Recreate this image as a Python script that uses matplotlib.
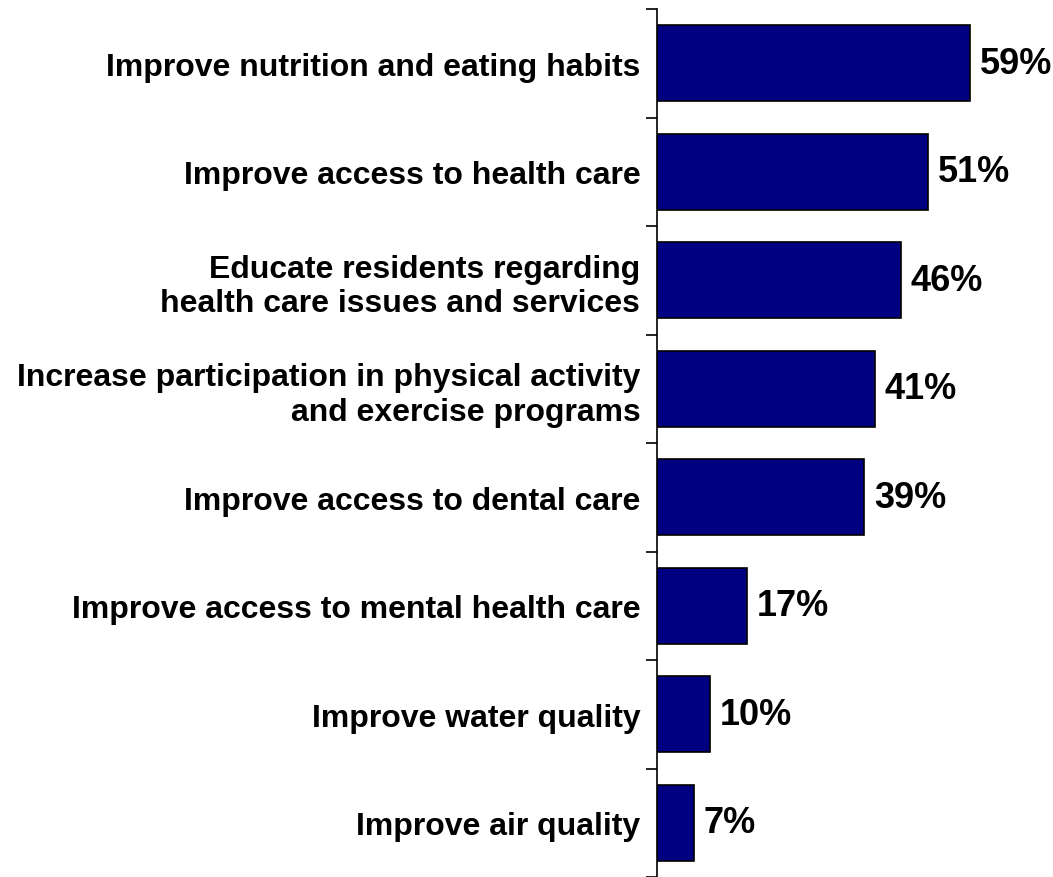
import matplotlib
matplotlib.use("Agg")
import matplotlib.pyplot as plt

categories = [
    "Improve nutrition and eating habits",
    "Improve access to health care",
    "Educate residents regarding\nhealth care issues and services",
    "Increase participation in physical activity\nand exercise programs",
    "Improve access to dental care",
    "Improve access to mental health care",
    "Improve water quality",
    "Improve air quality",
]
values = [59, 51, 46, 41, 39, 17, 10, 7]
value_labels = ["59%", "51%", "46%", "41%", "39%", "17%", "10%", "7%"]

plt.rcParams['font.family'] = ['Liberation Sans', 'DejaVu Sans']

fig = plt.figure(figsize=(10.53, 8.78), dpi=100)
ax = fig.add_axes([657/1053, 0.0, 1 - 657/1053, 1 - 10/878])

n = len(categories)
ypos = list(range(n))
ax.barh(ypos, values, height=0.7, color="#000080", edgecolor="black", linewidth=1.2)
ax.set_ylim(n - 0.5, -0.5)
ax.set_xlim(0, 74.6)

for y, v, lab in zip(ypos, values, value_labels):
    ax.annotate(lab, (v, y), xytext=(7, 0), textcoords="offset points",
                ha="left", va="center", fontsize=26, fontweight="bold")

ax.set_yticks([i + 0.5 for i in range(-1, n)], minor=False)
ax.set_yticklabels([])
ax.set_yticks(ypos, minor=True)
ax.set_yticklabels(categories, minor=True, fontsize=23, fontweight="bold",
                   linespacing=1.2, ha="right")
ax.tick_params(axis="y", which="major", direction="out", length=8, width=1.2)
ax.tick_params(axis="y", which="minor", length=0, pad=12)
ax.set_xticks([])
for s in ["top", "right", "bottom"]:
    ax.spines[s].set_visible(False)
ax.spines["left"].set_linewidth(1.2)

fig.savefig("out.png", dpi=100)
